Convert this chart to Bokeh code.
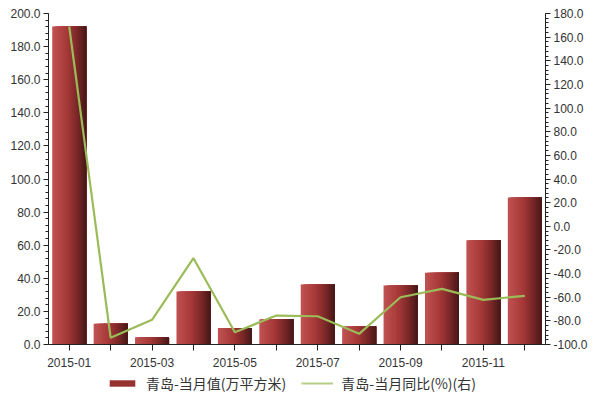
from bokeh.plotting import figure
from bokeh.layouts import column
from bokeh.models import (ColumnDataSource, LinearAxis, Range1d, NumeralTickFormatter,
                          Legend, LegendItem, SingleIntervalTicker, FixedTicker)
from bokeh.transform import dodge
from bokeh.embed import file_html
from bokeh.resources import INLINE

months = ["2015-01", "2015-02", "2015-03", "2015-04", "2015-05", "2015-06",
          "2015-07", "2015-08", "2015-09", "2015-10", "2015-11", "2015-12"]
value_monthly = [192.1, 12.6, 4.4, 32.0, 9.9, 15.3, 36.2, 10.9, 35.6, 43.3, 63.0, 88.8]
yoy_pct = [169.0, -94.3, -79.1, -27.0, -89.6, -75.5, -76.1, -91.0, -60.0, -52.9, -62.2, -58.8]
label_bar = "青岛-当月值(万平方米)"
label_line = "青岛-当月同比(%)(右)"

idx = list(range(len(months)))
src = ColumnDataSource(dict(x=idx, month=months, val=value_monthly, yoy=yoy_pct))

p = figure(width=600, height=371, x_range=Range1d(-0.5, len(months) - 0.5), y_range=Range1d(0, 200),
           output_backend="svg", toolbar_location=None, tools="",
           min_border_left=48, min_border_right=55, min_border_top=13, min_border_bottom=27)
p.outline_line_color = None
p.grid.visible = False
p.extra_y_ranges = {"right": Range1d(-100, 180)}

N = 20
bw = 0.82
sw = bw / N

def col(t):
    stops = [(0.0, (194, 82, 82)), (0.45, (165, 56, 56)), (0.75, (120, 38, 38)), (1.0, (68, 24, 24))]
    for (t0, c0), (t1, c1) in zip(stops[:-1], stops[1:]):
        if t <= t1:
            f = (t - t0) / (t1 - t0)
            return "#%02x%02x%02x" % tuple(int(round(a + (b - a) * f)) for a, b in zip(c0, c1))
    return "#441818"

for i in range(N):
    off = i * sw / 2
    p.vbar(x=dodge("x", off), top="val", bottom=0, width=bw - i * sw,
           source=src, fill_color=col((i + 0.5) / N), line_color=None)

line = p.line(x="x", y="yoy", source=src, y_range_name="right",
              line_color="#9bbb59", line_width=2.2)

font = "Liberation Sans"
ya = p.yaxis[0]
ya.ticker = SingleIntervalTicker(interval=20, num_minor_ticks=5)
ya.formatter = NumeralTickFormatter(format="0.0")

ra = LinearAxis(y_range_name="right", ticker=SingleIntervalTicker(interval=20, num_minor_ticks=5),
                formatter=NumeralTickFormatter(format="0.0"))
p.add_layout(ra, "right")

for ax in [ya, ra]:
    ax.major_tick_in = 0
    ax.major_tick_out = 5
    ax.minor_tick_in = 0
    ax.minor_tick_out = 3
    ax.major_label_standoff = 3

xa = p.xaxis[0]
xa.ticker = FixedTicker(ticks=idx, minor_ticks=[])
xa.major_label_overrides = {i: (m if i % 2 == 0 else "") for i, m in enumerate(months)}
xa.major_tick_in = 0
xa.major_tick_out = 6
xa.minor_tick_in = 0
xa.minor_tick_out = 0
xa.major_label_standoff = 7

for ax in [ya, ra, xa]:
    ax.axis_line_color = "#222222"
    ax.major_tick_line_color = "#222222"
    ax.minor_tick_line_color = "#222222"
    ax.major_label_text_font = font
    ax.major_label_text_font_size = "12px"
    ax.major_label_text_color = "#333333"

# legend strip below the chart (sample renderers lie outside the visible range)
lg = figure(width=600, height=30, x_range=Range1d(0, 1), y_range=Range1d(0, 1),
            x_axis_type=None, y_axis_type=None, output_backend="svg", toolbar_location=None,
            tools="", min_border=0)
lg.outline_line_color = None
lg.grid.visible = False
leg_bar = lg.vbar(x=[5], top=[5], bottom=[4], width=0.1, fill_color=col(0.55), line_color=None)
leg_line = lg.line(x=[5, 6], y=[5, 5], line_color="#b5cf85", line_width=2.2)
legend = Legend(items=[LegendItem(label=label_bar, renderers=[leg_bar]),
                       LegendItem(label=label_line, renderers=[leg_line])],
                orientation="horizontal", location=(58, 8),
                label_text_font="Noto Sans CJK SC", label_text_font_size="14px",
                label_text_color="#333333", glyph_width=32, glyph_height=8,
                spacing=15, border_line_color=None, background_fill_alpha=0,
                padding=0, margin=0, label_standoff=8)
lg.add_layout(legend, "center")

open("out.html", "w").write(file_html(column(p, lg, spacing=0), INLINE))
